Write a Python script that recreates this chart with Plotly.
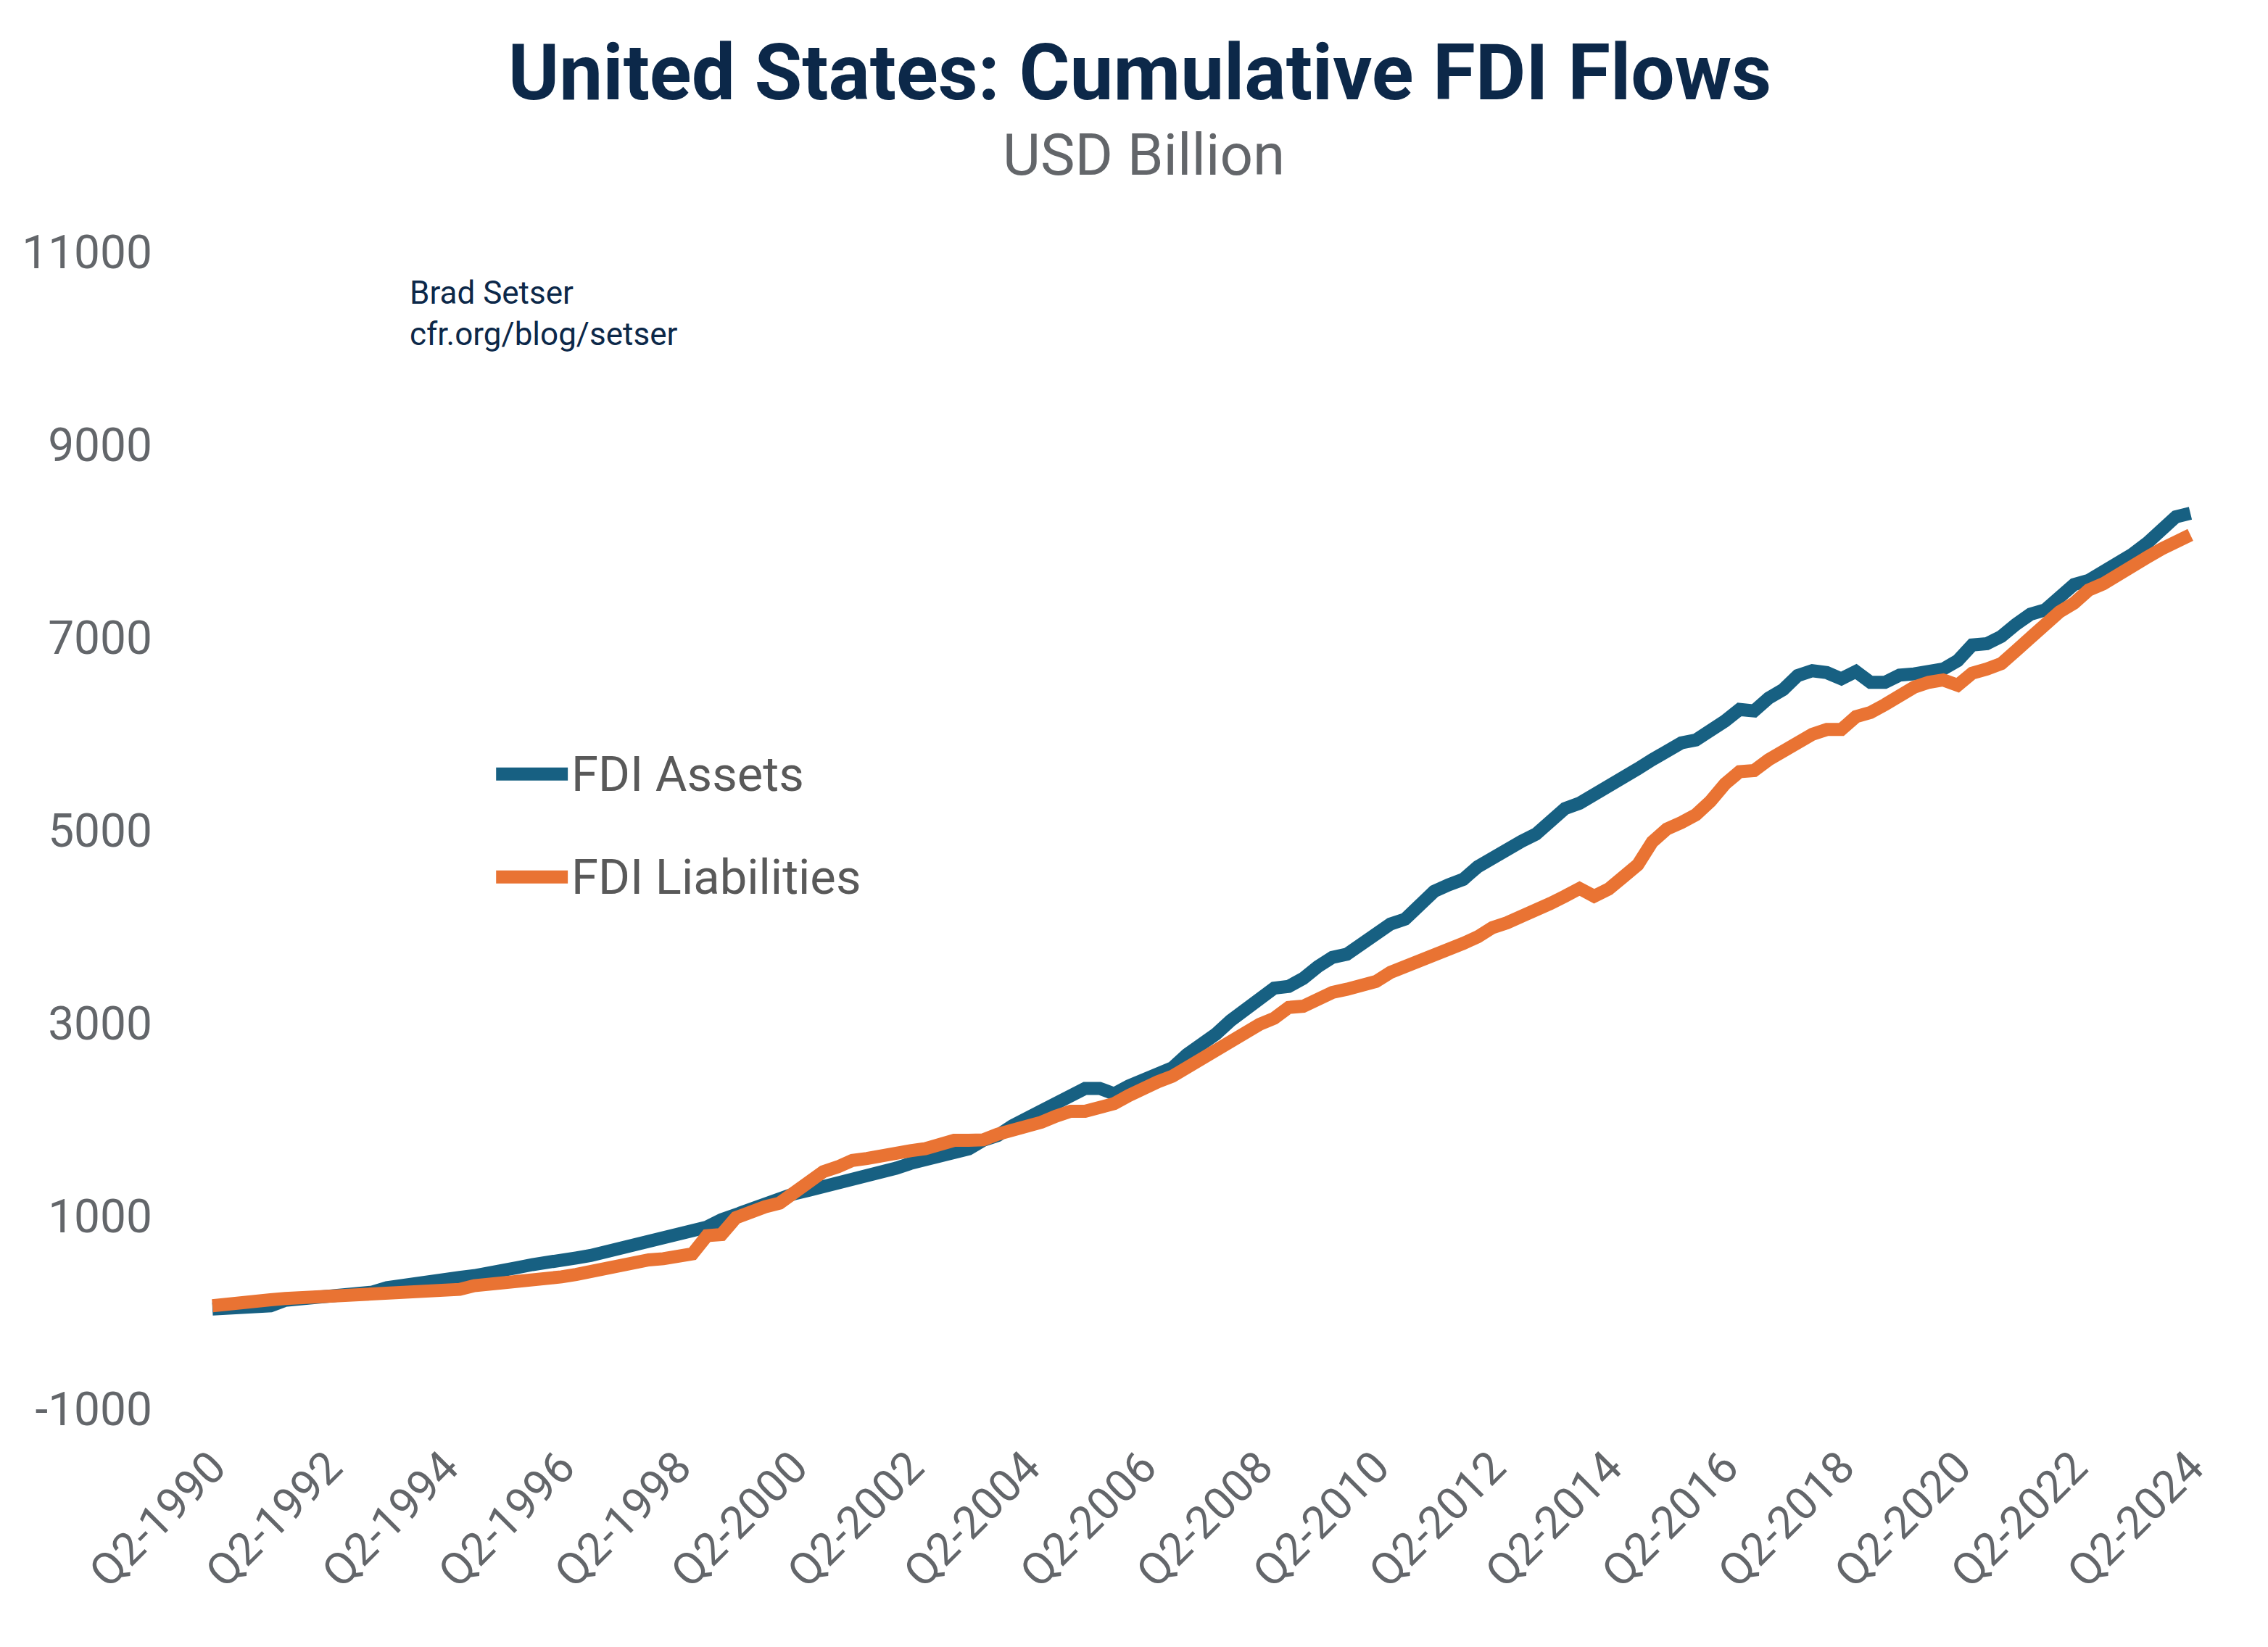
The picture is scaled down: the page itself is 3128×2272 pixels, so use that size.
import plotly.graph_objects as go

# quarterly categories, Q2-1990 .. Q2-2024
quarters = [f"Q{q % 4 + 1}-{1990 + q // 4}" for q in range(1, 138)]
tick_labels = quarters[::8]
y_ticks = [-1000, 1000, 3000, 5000, 7000, 9000, 11000]

fdi_assets = [40, 50, 60, 65, 73, 130, 140, 150, 165, 180,
              200, 215, 260, 275, 291, 305, 345, 368, 385, 405,
              425, 470, 500, 512, 528, 569, 594, 632, 664, 694,
              727, 757, 794, 832, 890, 965, 1020, 1080, 1150, 1188,
              1235, 1270, 1305, 1350, 1389, 1420, 1450, 1500, 1550, 1585,
              1620, 1655, 1700, 1790, 1840, 1940, 2015, 2078, 2190, 2253,
              2328, 2328, 2271, 2353, 2416, 2491, 2541, 2679, 2779, 2892,
              3030, 3143, 3268, 3368, 3386, 3468, 3590, 3686, 3719, 3832,
              3927, 4033, 4083, 4208, 4371, 4439, 4496, 4627, 4722, 4822,
              4890, 4965, 5110, 5231, 5286, 5366, 5449, 5561, 5642, 5737,
              5837, 5912, 5942, 6025, 6138, 6258, 6243, 6376, 6464, 6610,
              6660, 6640, 6576, 6652, 6539, 6539, 6614, 6627, 6644, 6677,
              6764, 6927, 6940, 7015, 7140, 7246, 7290, 7446, 7554, 7596,
              7680, 7772, 7867, 7981, 8130, 8256, 8293]

fdi_liabilities = [73, 95, 115, 125, 135, 148, 155, 162, 170, 178,
                   193, 200, 215, 225, 228, 232, 238, 243, 281, 291,
                   306, 329, 345, 355, 373, 398, 431, 461, 494, 524,
                   549, 561, 579, 611, 800, 812, 987, 1050, 1100, 1138,
                   1238, 1351, 1464, 1514, 1581, 1601, 1639, 1659, 1682, 1702,
                   1739, 1789, 1789, 1794, 1852, 1890, 1922, 1977, 2040, 2090,
                   2090, 2128, 2170, 2253, 2341, 2396, 2454, 2541, 2629, 2754,
                   2805, 2892, 2992, 3055, 3168, 3180, 3260, 3323, 3356, 3398,
                   3436, 3531, 3586, 3662, 3732, 3787, 3832, 3900, 3995, 4045,
                   4113, 4145, 4246, 4321, 4401, 4321, 4396, 4521, 4647, 4885,
                   5018, 5085, 5166, 5306, 5486, 5612, 5624, 5737, 5830, 5925,
                   6000, 6050, 6050, 6183, 6226, 6308, 6414, 6489, 6539, 6564,
                   6509, 6634, 6677, 6734, 6867, 7010, 7135, 7271, 7361, 7496,
                   7561, 7662, 7762, 7834, 7922, 7997, 8068]

blue = '#176082'
orange = '#E97333'
navy = '#0C2849'
grey = '#63666A'
font = 'Roboto'

fig = go.Figure()
fig.add_trace(go.Scatter(x=quarters, y=fdi_assets, name='FDI Assets', mode='lines',
                         line=dict(color=blue, width=18)))
fig.add_trace(go.Scatter(x=quarters, y=fdi_liabilities, name='FDI Liabilities', mode='lines',
                         line=dict(color=orange, width=18)))

fig.update_xaxes(type='category', range=[-0.5, len(quarters) - 0.5],
                 tickmode='array', tickvals=tick_labels, ticktext=tick_labels,
                 tickangle=-45, showgrid=False, zeroline=False, showline=False,
                 ticks='', ticklabelstandoff=30,
                 tickfont=dict(family=font, size=62, color=grey))
fig.update_yaxes(range=[-1000, 11000], tickmode='array', tickvals=y_ticks,
                 ticktext=[str(v) for v in y_ticks],
                 showgrid=False, zeroline=False, showline=False,
                 ticks='', ticklabelstandoff=72,
                 tickfont=dict(family=font, size=64, color=grey))

# legend drawn inside the plot area
legend_items = [('FDI Assets', blue, 0.549), ('FDI Liabilities', orange, 0.460)]
for label, color, ypos in legend_items:
    fig.add_shape(type='line', xref='paper', yref='paper',
                  x0=0.146, x1=0.182, y0=ypos, y1=ypos,
                  line=dict(color=color, width=18))
    fig.add_annotation(text=label, xref='paper', yref='paper', x=0.183, y=ypos,
                       xanchor='left', yanchor='middle', showarrow=False,
                       font=dict(family=font, size=67, color='#595959'))

fig.add_annotation(text='Brad Setser<br>cfr.org/blog/setser', align='left',
                   xref='paper', yref='paper', x=0.102, y=0.947,
                   xanchor='left', yanchor='middle', showarrow=False,
                   font=dict(family=font, size=44, color=navy))
fig.add_annotation(text='USD Billion', xref='paper', yref='paper', x=0.471, y=1.084,
                   xanchor='center', yanchor='middle', showarrow=False,
                   font=dict(family=font, size=80, color=grey))

fig.update_layout(width=3128, height=2272,
                  title=dict(text='<b>United States: Cumulative FDI Flows</b>',
                             x=0.5, xanchor='center', y=1 - 92 / 2272, yanchor='middle',
                             font=dict(family=font, size=107, color=navy)),
                  showlegend=False,
                  paper_bgcolor='white', plot_bgcolor='white',
                  margin=dict(l=275, r=105, t=340, b=336))

fig.write_html("out.html")
